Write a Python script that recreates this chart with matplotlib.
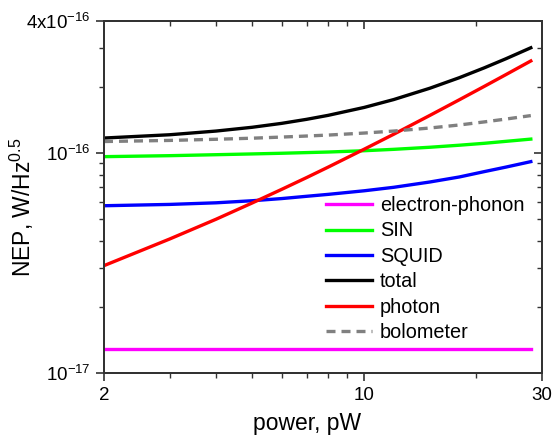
import numpy as np
import matplotlib.pyplot as plt
from matplotlib.ticker import FixedLocator, FixedFormatter, NullFormatter

plt.rcParams['font.family'] = ['Liberation Sans', 'DejaVu Sans']
plt.rcParams['mathtext.fontset'] = 'custom'
plt.rcParams['mathtext.rm'] = 'Liberation Sans'
plt.rcParams['mathtext.it'] = 'Liberation Sans:italic'
plt.rcParams['axes.unicode_minus'] = False

# Data (NEP in units of 1e-17 W/Hz^0.5)
power = [2, 3, 4, 5, 6, 7, 8, 10, 12, 15, 18, 21, 24, 28]
e_phonon = [1.28, 1.28, 1.28, 1.28, 1.28, 1.28, 1.28, 1.28, 1.28, 1.28, 1.28, 1.28, 1.28, 1.28]
sin = [9.65, 9.75, 9.85, 9.93, 10.0, 10.07, 10.13, 10.27, 10.42, 10.65, 10.88, 11.1, 11.33, 11.6]
squid = [5.77, 5.85, 5.95, 6.08, 6.22, 6.37, 6.5, 6.75, 7.0, 7.4, 7.8, 8.25, 8.65, 9.16]
total = [11.73, 12.14, 12.62, 13.13, 13.68, 14.27, 14.88, 16.17, 17.56, 19.77, 22.08, 24.48, 26.92, 30.21]
photon = [3.08, 4.07, 5.01, 5.94, 6.85, 7.75, 8.65, 10.44, 12.21, 14.87, 17.52, 20.16, 22.8, 26.31]
bolometer = [11.31, 11.44, 11.58, 11.71, 11.85, 11.98, 12.10, 12.36, 12.62, 13.03, 13.45, 13.89, 14.31, 14.84]

scale = 1e-17
fig = plt.figure(figsize=(5.54, 4.37), dpi=100)
ax = fig.add_axes([0.1877, 0.1465, 0.7906, 0.8055])

lw = 2.4
ax.plot(power, np.array(e_phonon) * scale, color='#ff00ff', lw=lw, label='electron-phonon')
ax.plot(power, np.array(sin) * scale, color='#00ff00', lw=lw, label='SIN')
ax.plot(power, np.array(squid) * scale, color='#0000ff', lw=lw, label='SQUID')
ax.plot(power, np.array(total) * scale, color='black', lw=lw, label='total')
ax.plot(power, np.array(photon) * scale, color='#ff0000', lw=lw, label='photon')
ax.plot(power, np.array(bolometer) * scale, color='#808080', lw=lw, ls=(0, (2.7, 1.8)), label='bolometer')

ax.set_xscale('log')
ax.set_yscale('log')
ax.set_xlim(2, 30)
ax.set_ylim(1e-17, 4e-16)

xmaj = [2, 10, 30]
xmin = [3, 4, 5, 6, 7, 8, 9, 20]
ymaj = [1e-17, 1e-16, 4e-16]
ymin = [2e-17, 3e-17, 4e-17, 5e-17, 6e-17, 7e-17, 8e-17, 9e-17, 2e-16, 3e-16]

ax.xaxis.set_major_locator(FixedLocator(xmaj))
ax.xaxis.set_major_formatter(FixedFormatter(['2', '10', '30']))
ax.xaxis.set_minor_locator(FixedLocator(xmin))
ax.xaxis.set_minor_formatter(NullFormatter())
ax.yaxis.set_major_locator(FixedLocator(ymaj))
ax.yaxis.set_major_formatter(FixedFormatter(['10$^{-17}$', '10$^{-16}$', '4x10$^{-16}$']))
ax.yaxis.set_minor_locator(FixedLocator(ymin))
ax.yaxis.set_minor_formatter(NullFormatter())

spine_c = '#333333'
for s in ax.spines.values():
    s.set_color(spine_c)
    s.set_linewidth(1.3)
ax.tick_params(which='major', direction='out', length=6, width=1.2, color=spine_c, labelsize=13.5)
ax.tick_params(which='minor', direction='out', length=3.5, width=1.0, color=spine_c)
ax.tick_params(axis='x', pad=4)

# mirrored inward ticks on top and right
axt = ax.twiny()
axt.set_xscale('log')
axt.set_xlim(ax.get_xlim())
axt.xaxis.set_major_locator(FixedLocator(xmaj))
axt.xaxis.set_minor_locator(FixedLocator(xmin))
axt.xaxis.set_major_formatter(NullFormatter())
axt.xaxis.set_minor_formatter(NullFormatter())
axt.tick_params(which='major', direction='in', length=6, width=1.2, color=spine_c)
axt.tick_params(which='minor', direction='in', length=3.5, width=1.0, color=spine_c)

axr = ax.twinx()
axr.set_yscale('log')
axr.set_ylim(ax.get_ylim())
axr.yaxis.set_major_locator(FixedLocator(ymaj))
axr.yaxis.set_minor_locator(FixedLocator(ymin))
axr.yaxis.set_major_formatter(NullFormatter())
axr.yaxis.set_minor_formatter(NullFormatter())
axr.tick_params(which='major', direction='in', length=6, width=1.2, color=spine_c)
axr.tick_params(which='minor', direction='in', length=3.5, width=1.0, color=spine_c)
for a in (axt, axr):
    for s in a.spines.values():
        s.set_color(spine_c)
        s.set_linewidth(1.3)

ax.set_xlabel('power, pW', fontsize=16.5)
ax.xaxis.set_label_coords(0.463, -0.11)
ax.set_ylabel('NEP, W/Hz$^{0.5}$', fontsize=16.5)
ax.yaxis.set_label_coords(-0.155, 0.47)

ax.legend(loc='upper left', bbox_to_anchor=(0.489, 0.525), frameon=False, fontsize=14.3,
          handlelength=2.3, handletextpad=0.4, labelspacing=0.32, borderaxespad=0)

fig.savefig('out.png', dpi=100)
